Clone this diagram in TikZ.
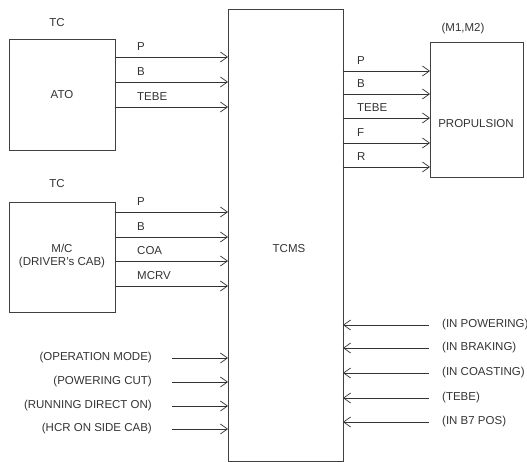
\documentclass[tikz,border=0pt]{standalone}
\usepackage{fontspec}
\setmainfont{Liberation Sans}
\usetikzlibrary{arrows.meta}
\begin{document}
\begin{tikzpicture}[x=1pt,y=-1pt,
  box/.style={draw=black!75, line width=0.8pt},
  sig/.style={draw=black!80, line width=0.7pt, -{Straight Barb[length=7pt,width=10pt,line width=0.7pt]}},
  lbl/.style={font=\fontsize{11.5}{13}\selectfont, text=black!80, inner sep=0pt},
]
\useasboundingbox (0,0) rectangle (527,462);
% boxes
\draw[box] (9,39) rectangle (115,150);
\draw[box] (9,202) rectangle (115,312);
\draw[box] (228,9) rectangle (343,461);
\draw[box] (430,42) rectangle (523,177);
\node[lbl] (ato) at (62,95) {ATO};
\node[lbl,align=center] (mc) at (62,256) {M/C\\(DRIVER's CAB)};
\node[lbl] (tcms) at (289,249) {TCMS};
\node[lbl] (prop) at (476,124) {PROPULSION};
\node[lbl] (tc1) at (57,23) {TC};
\node[lbl] (tc2) at (57,184) {TC};
\node[lbl] (m12) at (463,29) {(M1,M2)};
% ATO -> TCMS
\foreach \y/\t in {57/P,82/B,107/TEBE}{
  \coordinate (a\y) at (115,\y);
  \coordinate (b\y) at (228,\y);
  \draw[sig] (a\y) -- (b\y);
  \node[lbl,anchor=south west] at (137,\y-6) {\t};
}
% M/C -> TCMS
\foreach \y/\t in {212/P,237/B,261/COA,286/MCRV}{
  \coordinate (a\y) at (115,\y);
  \coordinate (b\y) at (228,\y);
  \draw[sig] (a\y) -- (b\y);
  \node[lbl,anchor=south west] at (137,\y-6) {\t};
}
% TCMS -> PROPULSION
\foreach \y/\t in {71/P,94/B,118/TEBE,143/F,167/R}{
  \coordinate (a\y) at (343,\y);
  \coordinate (b\y) at (430,\y);
  \draw[sig] (a\y) -- (b\y);
  \node[lbl,anchor=south west] at (357,\y-6) {\t};
}
% left inputs
\foreach \y/\t in {358/(OPERATION MODE),382/(POWERING CUT),406/(RUNNING DIRECT ON),429/(HCR ON SIDE CAB)}{
  \coordinate (a\y) at (172,\y);
  \coordinate (b\y) at (228,\y);
  \draw[sig] (a\y) -- (b\y);
  \node[lbl,anchor=east] at (152,\y) {\t};
}
% right inputs
\foreach \y/\t in {325/(IN POWERING),348/(IN BRAKING),373/(IN COASTING),398/(TEBE),422/(IN B7 POS)}{
  \coordinate (a\y) at (429,\y);
  \coordinate (b\y) at (343,\y);
  \draw[sig] (a\y) -- (b\y);
  \node[lbl,anchor=west] at (442,\y) {\t};
}
\end{tikzpicture}
\end{document}
